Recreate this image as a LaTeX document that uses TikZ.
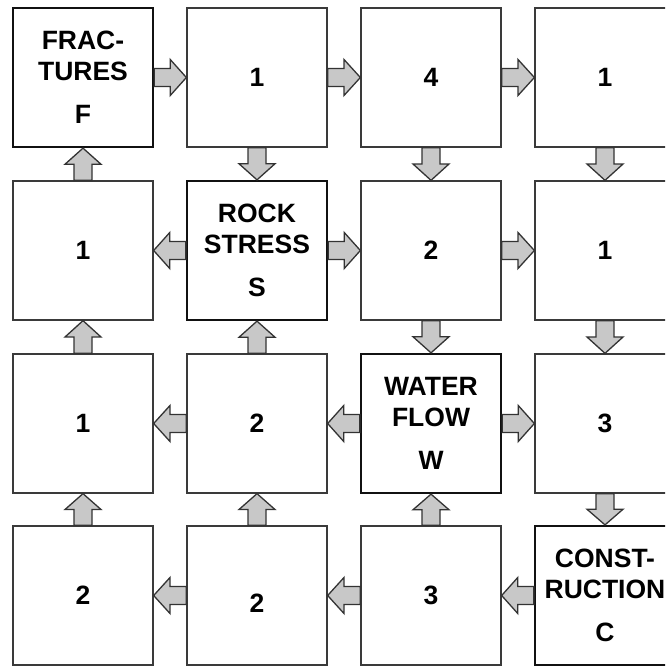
\documentclass[tikz,border=0pt]{standalone}
\usepackage{fontspec}
\setmainfont{Liberation Sans}
\usetikzlibrary{calc}
\definecolor{celledge}{HTML}{3A3A3A}
\definecolor{keyedge}{HTML}{111111}
\definecolor{arrowfill}{HTML}{C8C8C8}
\definecolor{arrowedge}{HTML}{333333}
\begin{document}
\begin{tikzpicture}[x=1pt,y=-1pt,
  cell/.style={draw=celledge, line width=1.3pt, fill=white,
    minimum width=140pt, minimum height=139pt, inner sep=0pt,
    font=\fontsize{26.5}{31}\selectfont\bfseries, align=center, text=black},
  keycell/.style={cell, draw=keyedge, line width=2.3pt},
  % block arrow: shaft over the first half of the gap, head over the second
  flow/.style={draw=arrowedge, fill=arrowfill, line width=1.3pt, line join=miter,
    to path={
      ($(\tikztostart)!9pt!-90:(\tikztotarget)$)
      -- ($(\tikztostart)!.5!(\tikztotarget)!9pt!-90:(\tikztotarget)$)
      -- ($(\tikztostart)!.5!(\tikztotarget)!18pt!-90:(\tikztotarget)$)
      -- (\tikztotarget)
      -- ($(\tikztostart)!.5!(\tikztotarget)!18pt!90:(\tikztotarget)$)
      -- ($(\tikztostart)!.5!(\tikztotarget)!9pt!90:(\tikztotarget)$)
      -- ($(\tikztostart)!9pt!90:(\tikztotarget)$)
      -- cycle}}]
\useasboundingbox (0,0) rectangle (665,666);
\clip (0,0) rectangle (665,666);

% row 1
\node[keycell] (n11) at (83,77.5)  {FRAC-\\TURES\\[12pt]F};
\node[cell]    (n12) at (257,77.5) {1};
\node[cell]    (n13) at (431,77.5) {4};
\node[cell]    (n14) at (605,77.5) {1};
% row 2
\node[keycell] (n22) at (257,250.5) {ROCK\\STRESS\\[12pt]S};
\node[cell]    (n21) at (83,250.5)  {1};
\node[cell]    (n23) at (431,250.5) {2};
\node[cell]    (n24) at (605,250.5) {1};
% row 3
\node[cell]    (n31) at (83,423.5)  {1};
\node[cell]    (n32) at (257,423.5) {2};
\node[keycell] (n33) at (431,423.5) {WATER\\FLOW\\[12pt]W};
\node[cell]    (n34) at (605,423.5) {3};
% row 4
\node[cell]    (n41) at (83,595.5)  {2};
\node[cell]    (n42) at (257,595.5) {\raisebox{-7pt}[19pt][0pt]{2}};
\node[cell]    (n43) at (431,595.5) {3};
\node[keycell] (n44) at (605,595.5) {CONST-\\RUCTION\\[12pt]C};

% horizontal links
\draw[flow] (n11.east) to (n12.west);
\draw[flow] (n12.east) to (n13.west);
\draw[flow] (n13.east) to (n14.west);
\draw[flow] (n22.west) to (n21.east);
\draw[flow] (n22.east) to (n23.west);
\draw[flow] (n23.east) to (n24.west);
\draw[flow] (n32.west) to (n31.east);
\draw[flow] (n33.west) to (n32.east);
\draw[flow] (n33.east) to (n34.west);
\draw[flow] (n42.west) to (n41.east);
\draw[flow] (n43.west) to (n42.east);
\draw[flow] (n44.west) to (n43.east);

% vertical links
\draw[flow] (n21.north) to (n11.south);
\draw[flow] (n12.south) to (n22.north);
\draw[flow] (n13.south) to (n23.north);
\draw[flow] (n14.south) to (n24.north);
\draw[flow] (n31.north) to (n21.south);
\draw[flow] (n32.north) to (n22.south);
\draw[flow] (n23.south) to (n33.north);
\draw[flow] (n24.south) to (n34.north);
\draw[flow] (n41.north) to (n31.south);
\draw[flow] (n42.north) to (n32.south);
\draw[flow] (n43.north) to (n33.south);
\draw[flow] (n34.south) to (n44.north);
\end{tikzpicture}
\end{document}
